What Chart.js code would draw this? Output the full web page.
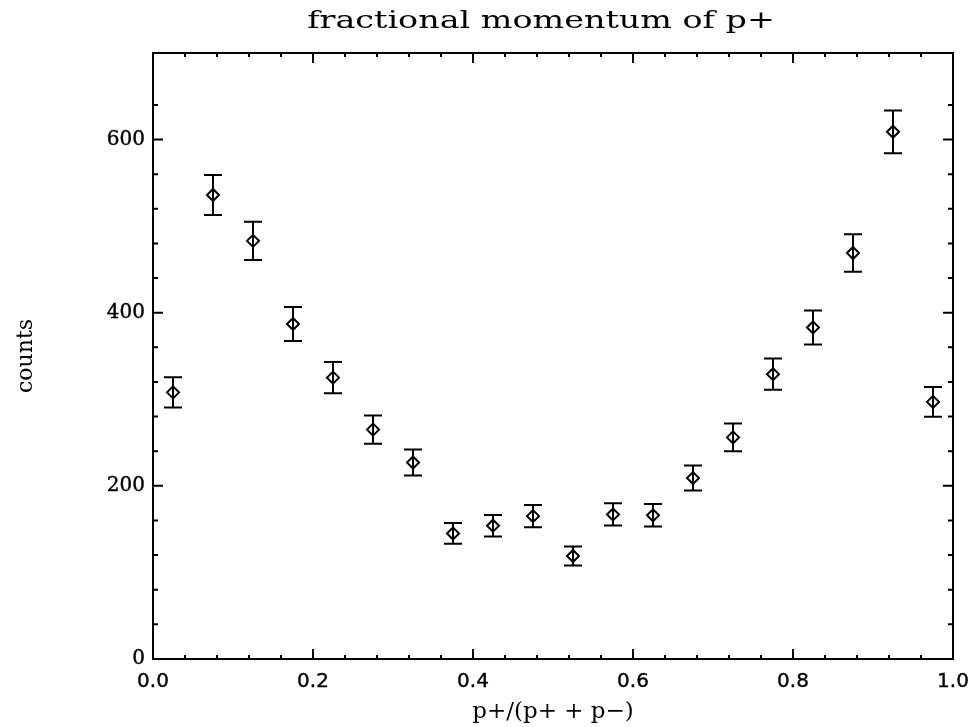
<!DOCTYPE html>
<html>
<head>
<meta charset="utf-8">
<script src="https://cdn.jsdelivr.net/npm/chart.js@4"></script>
<style>
  html, body { margin: 0; padding: 0; background: #fff; }
  #wrap { width: 974px; height: 727px; }
</style>
</head>
<body>
<div id="wrap"><canvas id="momChart"></canvas></div>
<script>
// bin centres of p+/(p+ + p-)
const binCentres = [0.025, 0.075, 0.125, 0.175, 0.225, 0.275, 0.325, 0.375, 0.425, 0.475,
                    0.525, 0.575, 0.625, 0.675, 0.725, 0.775, 0.825, 0.875, 0.925, 0.975];
// counts per bin
const counts = [308, 536, 483, 387, 325, 265, 227, 145, 154, 165,
                119, 167, 166, 209, 256, 329, 383, 469, 609, 297];
// half-length of each error bar
const errors = [17.5, 23, 22, 19.7, 18, 16.3, 15, 12, 12.4, 12.8,
                10.9, 12.9, 12.9, 14.5, 16, 18.1, 19.6, 21.7, 24.7, 17.2];

const yLabelTicks = [0, 200, 400, 600];
const xLabelTicks = [0.0, 0.2, 0.4, 0.6, 0.8, 1.0];

const chartTitle = "fractional momentum of p+";
const SERIF = "'DejaVu Serif', serif";
const SANS = "'DejaVu Sans', sans-serif";

const points = binCentres.map((x, i) => ({ x: x, y: counts[i] }));

const isLabelled = (v, list) => list.some((t) => Math.abs(t - v) < 1e-6);

// error bars, title, box frame with inward ticks on all sides
const idlFrame = {
  id: "idlFrame",
  beforeDatasetsDraw(chart) {
    const ctx = chart.ctx;
    const xs = chart.scales.x;
    const ys = chart.scales.y;
    ctx.save();
    ctx.strokeStyle = "#000";
    ctx.lineWidth = 2;
    const cap = 9;
    binCentres.forEach((x, i) => {
      const px = xs.getPixelForValue(x);
      const top = ys.getPixelForValue(counts[i] + errors[i]);
      const bot = ys.getPixelForValue(counts[i] - errors[i]);
      ctx.beginPath();
      ctx.moveTo(px, top);
      ctx.lineTo(px, bot);
      ctx.moveTo(px - cap, top);
      ctx.lineTo(px + cap, top);
      ctx.moveTo(px - cap, bot);
      ctx.lineTo(px + cap, bot);
      ctx.stroke();
    });
    ctx.restore();
  },
  afterDraw(chart) {
    const ctx = chart.ctx;
    const a = chart.chartArea;
    const xs = chart.scales.x;
    const ys = chart.scales.y;
    ctx.save();
    ctx.strokeStyle = "#000";
    ctx.lineWidth = 2;
    ctx.strokeRect(a.left, a.top, a.right - a.left, a.bottom - a.top);
    ctx.beginPath();
    xs.ticks.forEach((t) => {
      const px = xs.getPixelForValue(t.value);
      const len = isLabelled(t.value, xLabelTicks) ? 10 : 4;
      ctx.moveTo(px, a.bottom);
      ctx.lineTo(px, a.bottom - len);
      ctx.moveTo(px, a.top);
      ctx.lineTo(px, a.top + len);
    });
    ys.ticks.forEach((t) => {
      const py = ys.getPixelForValue(t.value);
      const len = isLabelled(t.value, yLabelTicks) ? 10 : 5;
      ctx.moveTo(a.left, py);
      ctx.lineTo(a.left + len, py);
      ctx.moveTo(a.right, py);
      ctx.lineTo(a.right - len, py);
    });
    ctx.stroke();

    // the original title uses a wide, extended serif face
    ctx.fillStyle = "#000";
    ctx.font = "24px " + SERIF;
    ctx.textAlign = "center";
    ctx.textBaseline = "alphabetic";
    ctx.translate(541, 28);
    ctx.scale(1.39, 1);
    ctx.fillText(chartTitle, 0, 0);
    ctx.restore();
  },
};

new Chart(document.getElementById("momChart"), {
  type: "scatter",
  data: {
    datasets: [
      {
        data: points,
        pointStyle: "rectRot",
        pointRadius: 6,
        pointHoverRadius: 6,
        borderColor: "#000",
        backgroundColor: "rgba(0,0,0,0)",
        borderWidth: 2,
      },
    ],
  },
  options: {
    responsive: true,
    maintainAspectRatio: false,
    animation: false,
    events: [],
    layout: { padding: { left: 0, right: 21, top: 53, bottom: 0 } },
    plugins: {
      legend: { display: false },
      tooltip: { enabled: false },
      title: { display: false },
    },
    scales: {
      x: {
        type: "linear",
        min: 0,
        max: 1,
        afterFit: (scale) => {
          scale.height = 68;
          scale.paddingLeft = 0;
          scale.paddingRight = 0;
        },
        grid: { display: false, drawTicks: false },
        border: { display: false },
        ticks: {
          stepSize: 0.04,
          autoSkip: false,
          maxRotation: 0,
          padding: 11,
          color: "#000",
          textStrokeColor: "#000",
          textStrokeWidth: 0.4,
          font: { family: SANS, size: 20 },
          callback: (v) => (isLabelled(v, xLabelTicks) ? v.toFixed(1) : ""),
        },
        title: {
          display: true,
          text: "p+/(p+ + p\u2212)",
          color: "#000",
          font: { family: SERIF, size: 23 },
          padding: { top: 0, bottom: 1 },
        },
      },
      y: {
        type: "linear",
        min: 0,
        max: 700,
        afterFit: (scale) => {
          scale.width = 153;
          scale.paddingTop = 0;
          scale.paddingBottom = 0;
        },
        grid: { display: false, drawTicks: false },
        border: { display: false },
        ticks: {
          stepSize: 40,
          autoSkip: false,
          padding: 8,
          color: "#000",
          textStrokeColor: "#000",
          textStrokeWidth: 0.4,
          font: { family: SERIF, size: 20 },
          callback: (v) => (isLabelled(v, yLabelTicks) ? String(v) : ""),
        },
        title: {
          display: true,
          text: "counts",
          color: "#000",
          font: { family: SERIF, size: 22 },
          padding: { top: 13, bottom: 0 },
        },
      },
    },
  },
  plugins: [idlFrame],
});
</script>
</body>
</html>
